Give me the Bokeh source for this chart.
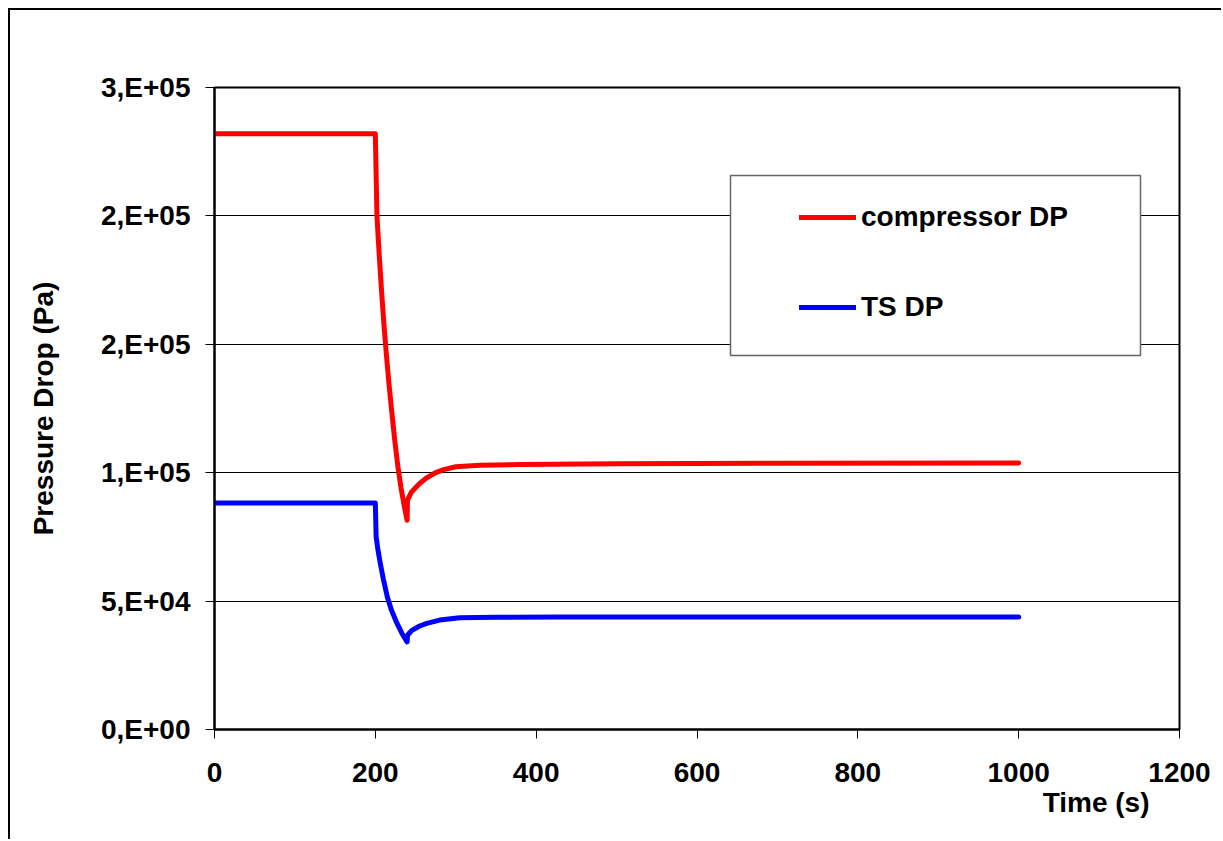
from bokeh.plotting import figure
from bokeh.models import (Range1d, FixedTicker, Legend, LegendItem, BoxAnnotation, Title)
from bokeh.embed import file_html
from bokeh.resources import INLINE

# ---- data ----
red_time = [0, 200, 202, 205, 208, 211, 214, 217, 220, 224, 228, 232, 236, 239.5,
            240, 245, 255, 264, 275, 285, 300, 330, 380, 500, 700, 1000]
red_dp = [232000, 232000, 200000, 184000, 169500, 156500, 145000, 134500, 125000, 113000, 102500, 94000, 87000, 81500,
          89300, 92500, 95800, 98000, 100000, 101200, 102300, 102900, 103200, 103500, 103700, 103800]

blue_time = [0, 200, 201, 203, 206, 210, 215, 220, 227, 233, 239.5,
             240, 245, 255, 264, 280, 305, 350, 430, 600, 800, 1000]
blue_dp = [88200, 88200, 75000, 70500, 65000, 58500, 51500, 46500, 41300, 37500, 34100,
           36700, 38500, 40300, 41300, 42600, 43500, 43700, 43800, 43800, 43850, 43850]

series_names = ["compressor DP", "TS DP"]
x_ticks = [0, 200, 400, 600, 800, 1000, 1200]
y_ticks = [0, 50000, 100000, 150000, 200000, 250000]
y_tick_labels = ["0,E+00", "5,E+04", "1,E+05", "2,E+05", "2,E+05", "3,E+05"]

FONT = "Liberation Sans"
FS = "28px"

p = figure(width=1213, height=831, output_backend="svg", toolbar_location=None,
           x_range=Range1d(0, 1200), y_range=Range1d(0, 250000),
           min_border_left=204, min_border_right=44, min_border_top=77, min_border_bottom=112)
p.styles = {"border-left": "2px solid black", "border-top": "2px solid black",
            "margin-left": "8px", "margin-top": "8px"}

p.background_fill_color = "white"
p.border_fill_color = "white"
p.outline_line_color = "black"
p.outline_line_width = 2

# grid
p.xgrid.visible = False
p.ygrid.grid_line_color = "black"
p.ygrid.grid_line_width = 1
p.ygrid.ticker = FixedTicker(ticks=y_ticks)

# axes
p.xaxis.ticker = FixedTicker(ticks=x_ticks)
p.yaxis.ticker = FixedTicker(ticks=y_ticks)
p.yaxis.major_label_overrides = {t: l for t, l in zip(y_ticks, y_tick_labels)}
for ax in (p.xaxis[0], p.yaxis[0]):
    ax.axis_line_color = "black"
    ax.axis_line_width = 2
    ax.major_tick_line_color = "black"
    ax.major_tick_line_width = 1
    ax.major_tick_out = 9
    ax.major_tick_in = 0
    ax.minor_tick_line_color = None
    ax.major_label_text_font = FONT
    ax.major_label_text_font_size = FS
    ax.major_label_text_font_style = "bold"
    ax.major_label_text_color = "black"
    ax.axis_label_text_font = FONT
    ax.axis_label_text_font_size = FS
    ax.axis_label_text_font_style = "bold"
    ax.axis_label_text_color = "black"
p.xaxis.major_label_standoff = 24
p.yaxis.major_label_standoff = 15
p.yaxis.axis_label = "Pressure Drop (Pa)"
p.yaxis.axis_label_standoff = 39

p.add_layout(Title(text="Time (s)", align="right", offset=30, text_font=FONT, text_font_size=FS,
                   text_font_style="bold", text_color="black", standoff=0), "below")

# lines
r1 = p.line(red_time, red_dp, line_color="#FF0000", line_width=5, line_join="round", line_cap="round")
r2 = p.line(blue_time, blue_dp, line_color="#0000FF", line_width=5, line_join="round", line_cap="round")

# legend frame
box = BoxAnnotation(left=718, right=1128, top=163, bottom=343,
                    left_units="canvas", right_units="canvas", top_units="canvas", bottom_units="canvas",
                    fill_color="white", fill_alpha=1, line_color="#666666", line_alpha=1, line_width=1.5)
p.add_layout(box)

legend = Legend(items=[LegendItem(label=series_names[0], renderers=[r1]),
                       LegendItem(label=series_names[1], renderers=[r2])],
                location=(585, 402), orientation="vertical",
                background_fill_alpha=0, border_line_color=None,
                padding=0, margin=0, spacing=50, glyph_width=57, glyph_height=40,
                label_height=40, label_standoff=5,
                label_text_font=FONT, label_text_font_size=FS, label_text_font_style="bold",
                label_text_color="black")
p.add_layout(legend)

open("out.html", "w").write(file_html(p, INLINE))
